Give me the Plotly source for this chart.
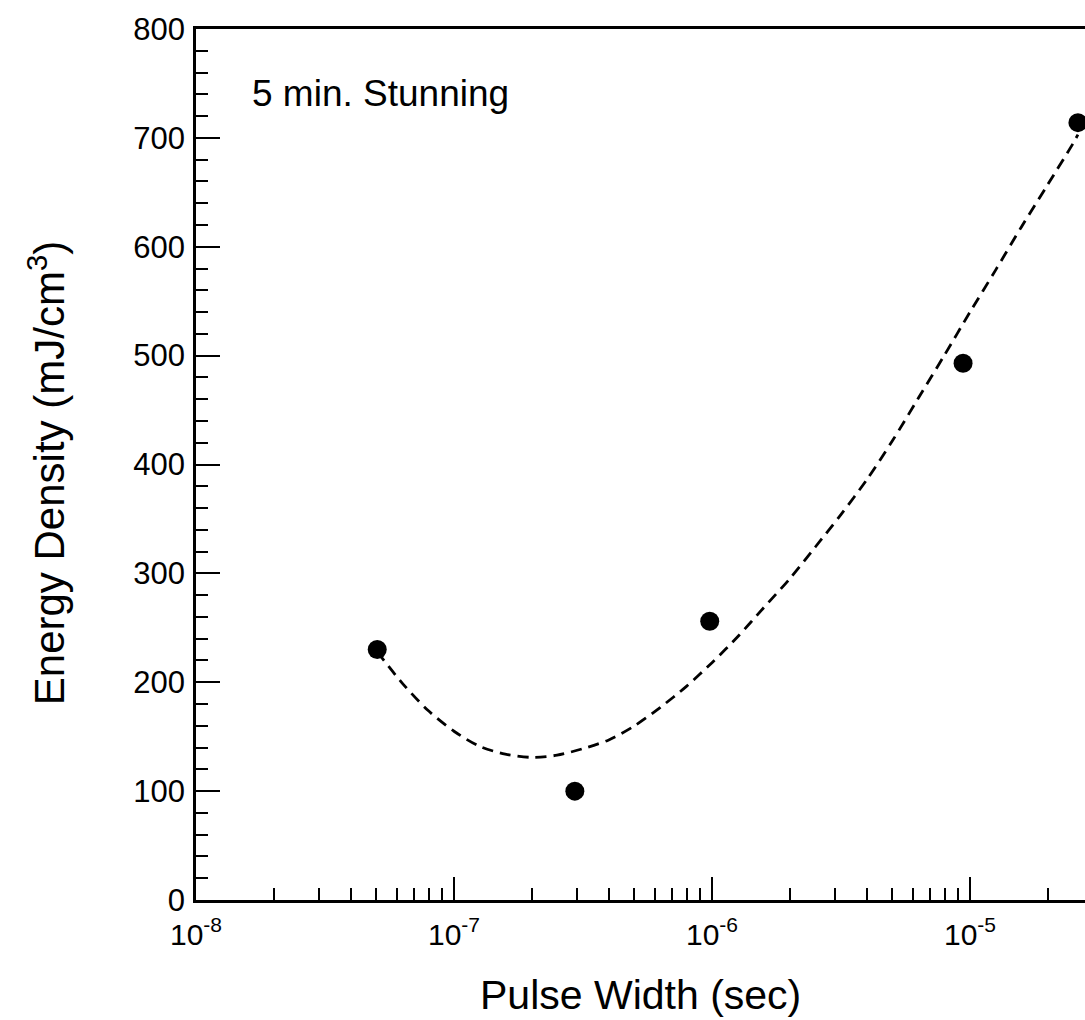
import plotly.graph_objects as go

# Measured data points (pulse width in seconds, energy density mJ/cm^3)
pulse_width = [5.04e-8, 2.94e-7, 9.8e-7, 9.4e-6, 2.62e-5]
energy_density = [230, 100, 256, 493, 714]

# Dashed fit curve
curve_x = [5.04e-8, 6.31e-8, 7.94e-8, 1.0e-7, 1.26e-7, 1.58e-7, 2.0e-7, 2.51e-7,
           3.16e-7, 3.98e-7, 5.01e-7, 6.31e-7, 7.94e-7, 1.0e-6, 1.26e-6, 1.58e-6,
           2.0e-6, 2.51e-6, 3.16e-6, 3.98e-6, 5.01e-6, 6.31e-6, 7.94e-6, 1.0e-5,
           1.26e-5, 1.58e-5, 2.0e-5, 2.51e-5, 2.62e-5]
curve_y = [228, 199, 174, 155, 141, 134, 131, 133,
           139, 147, 160, 177, 196, 218, 242, 268,
           295, 324, 354, 386, 422, 461, 500, 540,
           579, 618, 657, 695, 703]

x_tick_vals = [1e-8, 1e-7, 1e-6, 1e-5]
x_tick_text = ["10<sup>-8</sup>", "10<sup>-7</sup>", "10<sup>-6</sup>", "10<sup>-5</sup>"]
x_minor_vals = [m * d for d in x_tick_vals for m in range(2, 10)]
y_tick_vals = [0, 100, 200, 300, 400, 500, 600, 700, 800]

FONT = "Liberation Sans, Arial, Helvetica, sans-serif"

fig = go.Figure()
fig.add_trace(go.Scatter(
    x=curve_x, y=curve_y, mode="lines",
    line=dict(color="black", width=2.8, dash="11px,7px", shape="spline", smoothing=0.8),
    showlegend=False, hoverinfo="skip"))
fig.add_trace(go.Scatter(
    x=pulse_width, y=energy_density, mode="markers",
    marker=dict(color="black", size=19),
    showlegend=False, cliponaxis=False))

fig.update_layout(
    width=1085, height=1020,
    margin=dict(l=196, r=0, t=29, b=120),
    paper_bgcolor="white", plot_bgcolor="white",
    font=dict(family=FONT, color="black"),
    xaxis=dict(
        type="log", range=[-8, -8 + 889 / 258],
        tickmode="array", tickvals=x_tick_vals, ticktext=x_tick_text,
        ticks="inside", ticklen=23, tickwidth=2, tickcolor="black",
        minor=dict(tickmode="array", tickvals=x_minor_vals, ticks="inside",
                   ticklen=12, tickwidth=2, tickcolor="black", showgrid=False),
        showline=True, linecolor="black", linewidth=2.5, mirror=True,
        showgrid=False, zeroline=False, ticklabelstandoff=6,
        tickfont=dict(size=30, family=FONT, color="black"),
    ),
    yaxis=dict(
        range=[0, 800], tickmode="array", tickvals=y_tick_vals,
        ticks="inside", ticklen=24, tickwidth=2, tickcolor="black",
        minor=dict(dtick=20, tick0=0, ticks="inside", ticklen=12, tickwidth=2,
                   tickcolor="black", showgrid=False),
        showline=True, linecolor="black", linewidth=2.5, mirror=False,
        showgrid=False, zeroline=False, ticklabelstandoff=2,
        tickfont=dict(size=31, family=FONT, color="black"),
    ),
    annotations=[
        dict(text="Energy Density (mJ/cm<sup>3</sup>)", xref="paper", yref="paper",
             x=-0.1676, y=0.49, xanchor="center", yanchor="middle", textangle=-90,
             showarrow=False, font=dict(size=42, family=FONT, color="black")),
        dict(text="Pulse Width (sec)", xref="paper", yref="paper",
             x=0.5, y=-0.109, xanchor="center", yanchor="middle",
             showarrow=False, font=dict(size=41, family=FONT, color="black")),
        dict(text="5 min. Stunning", xref="paper", yref="paper",
             x=0.0607, y=0.926, xanchor="left", yanchor="middle",
             showarrow=False, font=dict(size=37, family=FONT, color="black")),
    ],
)

fig.write_html("out.html")
